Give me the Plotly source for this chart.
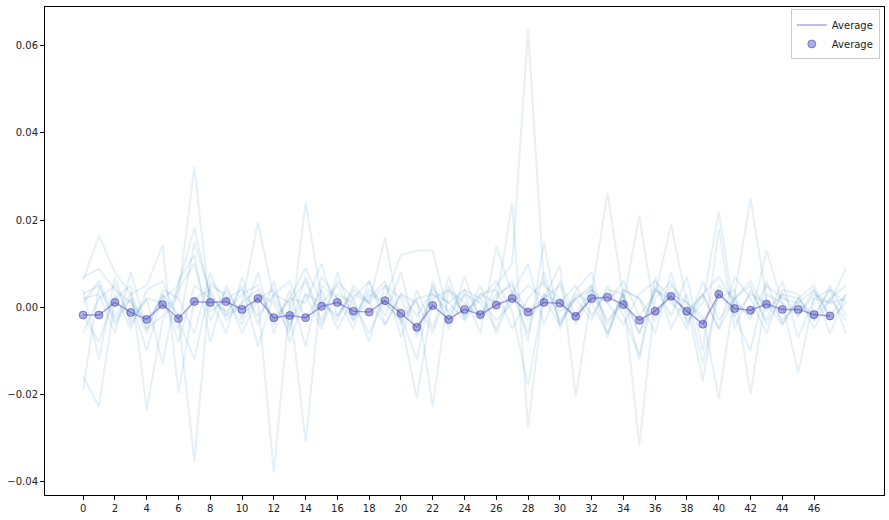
import plotly.graph_objects as go

x_series = list(range(49))
x_avg = list(range(48))

s1 = [0.0069, 0.0088, 0.0040, 0.0010, -0.0030, 0.0020, 0.0050, 0.0183, 0.0020, -0.0010, 0.0030, 0.0050, -0.0040, 0.0020, 0.0090, 0.0010, -0.0020, 0.0040, 0.0010, 0.0050, 0.0020, -0.0060, 0.0030, 0.0010, 0.0040, -0.0020, 0.0050, 0.0100, 0.0637, 0.0050, 0.0020, -0.0030, 0.0040, 0.0010, -0.0040, 0.0030, 0.0060, 0.0020, -0.0010, 0.0030, 0.0070, 0.0010, -0.0020, 0.0050, 0.0020, 0.0010, -0.0030, 0.0020, 0.0050]
s2 = [0.0062, 0.0164, 0.0080, 0.0030, -0.0050, -0.0020, 0.0040, 0.0100, -0.0030, 0.0040, -0.0020, 0.0020, -0.0380, 0.0010, 0.0060, -0.0040, 0.0030, 0.0010, -0.0060, 0.0020, 0.0120, 0.0130, 0.0130, -0.0020, 0.0030, 0.0010, -0.0050, 0.0040, -0.0030, 0.0020, 0.0050, -0.0040, 0.0030, 0.0262, 0.0020, -0.0060, 0.0040, 0.0010, -0.0020, 0.0030, -0.0050, 0.0020, 0.0060, -0.0010, 0.0030, 0.0020, -0.0020, 0.0040, 0.0010]
s3 = [-0.0189, 0.0050, -0.0030, 0.0020, -0.0100, 0.0030, -0.0020, -0.0355, 0.0060, 0.0020, -0.0040, 0.0030, 0.0010, -0.0060, 0.0240, 0.0020, -0.0030, 0.0050, 0.0010, -0.0040, 0.0030, -0.0020, 0.0040, 0.0010, -0.0030, 0.0020, 0.0060, -0.0010, -0.0180, 0.0030, 0.0010, 0.0050, -0.0020, 0.0040, 0.0030, -0.0318, 0.0020, 0.0060, -0.0030, 0.0010, 0.0220, -0.0020, 0.0030, 0.0010, -0.0040, 0.0020, 0.0050, -0.0030, 0.0010]
s4 = [-0.0159, -0.0228, 0.0020, 0.0050, -0.0235, -0.0030, 0.0030, 0.0322, -0.0010, 0.0020, 0.0040, -0.0020, 0.0030, 0.0010, -0.0310, 0.0050, 0.0020, -0.0030, 0.0040, 0.0010, -0.0030, 0.0020, -0.0230, 0.0040, 0.0010, -0.0020, 0.0030, 0.0050, -0.0010, 0.0020, -0.0040, 0.0030, 0.0010, -0.0060, 0.0040, 0.0020, -0.0030, 0.0050, 0.0010, -0.0020, -0.0210, 0.0030, 0.0250, 0.0020, -0.0030, 0.0010, 0.0040, -0.0020, 0.0030]
s5 = [0.0010, 0.0060, -0.0020, 0.0030, 0.0050, 0.0142, -0.0197, 0.0020, 0.0040, -0.0030, 0.0010, 0.0195, 0.0020, -0.0040, 0.0030, 0.0010, 0.0050, -0.0020, 0.0030, 0.0010, -0.0030, -0.0210, 0.0020, 0.0040, -0.0020, 0.0030, 0.0010, 0.0240, -0.0275, 0.0030, -0.0010, 0.0020, 0.0040, -0.0030, 0.0010, 0.0210, -0.0020, 0.0030, 0.0010, -0.0170, 0.0050, 0.0020, -0.0030, 0.0130, 0.0010, -0.0020, 0.0030, 0.0010, 0.0020]
s6 = [-0.0059, 0.0020, 0.0050, -0.0030, 0.0020, 0.0010, -0.0050, 0.0150, 0.0030, -0.0020, 0.0010, 0.0040, -0.0030, 0.0020, 0.0010, 0.0100, -0.0020, 0.0030, 0.0010, 0.0160, -0.0040, 0.0020, 0.0030, -0.0010, 0.0040, 0.0020, -0.0030, 0.0010, 0.0050, 0.0020, 0.0095, -0.0205, 0.0030, 0.0010, 0.0060, -0.0020, 0.0030, 0.0190, 0.0010, -0.0030, 0.0020, 0.0040, -0.0200, 0.0030, 0.0010, -0.0150, 0.0020, 0.0010, 0.0090]
s7 = [0.0040, -0.0120, 0.0070, -0.0040, 0.0020, -0.0130, 0.0060, 0.0120, -0.0080, 0.0050, -0.0030, 0.0080, -0.0060, 0.0040, -0.0090, 0.0070, 0.0020, -0.0050, 0.0060, -0.0020, 0.0080, -0.0070, 0.0050, -0.0040, 0.0070, -0.0030, 0.0020, 0.0060, -0.0080, 0.0150, -0.0050, 0.0040, 0.0080, -0.0060, 0.0030, -0.0120, 0.0050, -0.0020, 0.0070, -0.0100, 0.0180, -0.0050, 0.0040, -0.0030, 0.0060, -0.0070, 0.0020, 0.0040, -0.0060]
s8 = [0.0020, 0.0030, -0.0060, 0.0080, -0.0050, 0.0030, -0.0080, 0.0050, 0.0020, -0.0060, 0.0070, -0.0040, 0.0060, -0.0080, 0.0030, -0.0050, 0.0080, -0.0030, 0.0020, 0.0060, -0.0070, 0.0040, -0.0050, 0.0070, -0.0030, 0.0050, -0.0060, 0.0030, 0.0100, -0.0040, 0.0060, -0.0020, 0.0050, -0.0070, 0.0040, 0.0020, -0.0060, 0.0080, -0.0040, 0.0030, -0.0050, 0.0070, 0.0020, -0.0060, 0.0040, 0.0030, -0.0050, 0.0020, -0.0030]
s9 = [-0.0020, -0.0080, 0.0030, -0.0050, 0.0040, 0.0060, -0.0030, -0.0120, 0.0050, 0.0030, -0.0060, 0.0020, 0.0040, -0.0050, 0.0070, -0.0030, 0.0060, 0.0020, -0.0080, 0.0050, -0.0020, -0.0120, 0.0060, -0.0050, 0.0030, -0.0060, 0.0140, 0.0030, -0.0060, 0.0080, -0.0040, 0.0020, -0.0030, 0.0050, -0.0020, -0.0110, 0.0070, -0.0050, 0.0030, -0.0130, 0.0040, -0.0020, -0.0100, 0.0060, -0.0040, 0.0020, -0.0030, 0.0050, -0.0020]
s10 = [0.0030, 0.0050, -0.0040, 0.0020, -0.0060, 0.0040, 0.0020, -0.0060, 0.0080, -0.0020, 0.0050, -0.0090, 0.0030, 0.0060, -0.0030, 0.0040, -0.0050, 0.0020, 0.0060, -0.0040, 0.0030, 0.0010, -0.0060, 0.0050, -0.0020, 0.0030, 0.0040, -0.0050, 0.0020, 0.0060, -0.0030, 0.0020, 0.0050, -0.0040, 0.0030, -0.0060, 0.0040, 0.0020, -0.0050, 0.0060, -0.0030, 0.0020, 0.0050, -0.0040, 0.0030, -0.0020, 0.0040, -0.0060, 0.0030]

average = [-0.0018, -0.0018, 0.0011, -0.0012, -0.0028, 0.0006, -0.0026, 0.0013, 0.0011, 0.0013, -0.0005, 0.0020,
           -0.0024, -0.0019, -0.0024, 0.0002, 0.0011, -0.0009, -0.0011, 0.0015, -0.0014, -0.0046, 0.0004, -0.0028,
           -0.0005, -0.0017, 0.0005, 0.0020, -0.0011, 0.0011, 0.0009, -0.0021, 0.0020, 0.0023, 0.0006, -0.0030,
           -0.0009, 0.0025, -0.0009, -0.0039, 0.0030, -0.0003, -0.0007, 0.0007, -0.0005, -0.0005, -0.0017, -0.0020]

series = [s1, s2, s3, s4, s5, s6, s7, s8, s9, s10]
for s in series:
    assert len(s) == len(x_series), len(s)
assert len(average) == len(x_avg)

x_ticks = list(range(0, 47, 2))
y_ticks = [-0.04, -0.02, 0.0, 0.02, 0.04, 0.06]

fig = go.Figure()
for s in series:
    fig.add_trace(go.Scatter(x=x_series, y=s, mode="lines", showlegend=False,
                             line=dict(color="rgba(31,119,180,0.11)", width=2), hoverinfo="skip"))

fig.add_trace(go.Scatter(x=x_avg, y=average, mode="lines", name="Average",
                         line=dict(color="rgba(106,90,205,0.55)", width=1.5)))
fig.add_trace(go.Scatter(x=x_avg, y=average, mode="markers", name="Average",
                         marker=dict(color="rgba(50,50,180,0.4)", size=8,
                                     line=dict(color="rgba(50,50,160,0.5)", width=1))))

fig.update_layout(
    width=889, height=520,
    margin=dict(l=45, r=5, t=7, b=25),
    plot_bgcolor="white", paper_bgcolor="white",
    font=dict(family="DejaVu Sans", size=10, color="#222"),
    legend=dict(x=0.995, y=0.995, xanchor="right", yanchor="top",
                bordercolor="#cccccc", borderwidth=1, bgcolor="white",
                font=dict(size=10), tracegroupgap=0, itemwidth=30),
)
fig.update_xaxes(range=[-2.4, 50.4], tickvals=x_ticks, ticktext=[str(t) for t in x_ticks],
                 showgrid=False, zeroline=False, showline=True, mirror=True,
                 linecolor="black", linewidth=1, ticks="outside", ticklen=4, tickcolor="black")
fig.update_yaxes(range=[-0.0431, 0.0689], tickvals=y_ticks, tickformat=".2f",
                 showgrid=False, zeroline=False, showline=True, mirror=True,
                 linecolor="black", linewidth=1, ticks="outside", ticklen=4, tickcolor="black")

fig.write_html("out.html", config={"displayModeBar": False},
               post_script="document.body.style.margin='0';document.body.style.overflow='hidden';")
